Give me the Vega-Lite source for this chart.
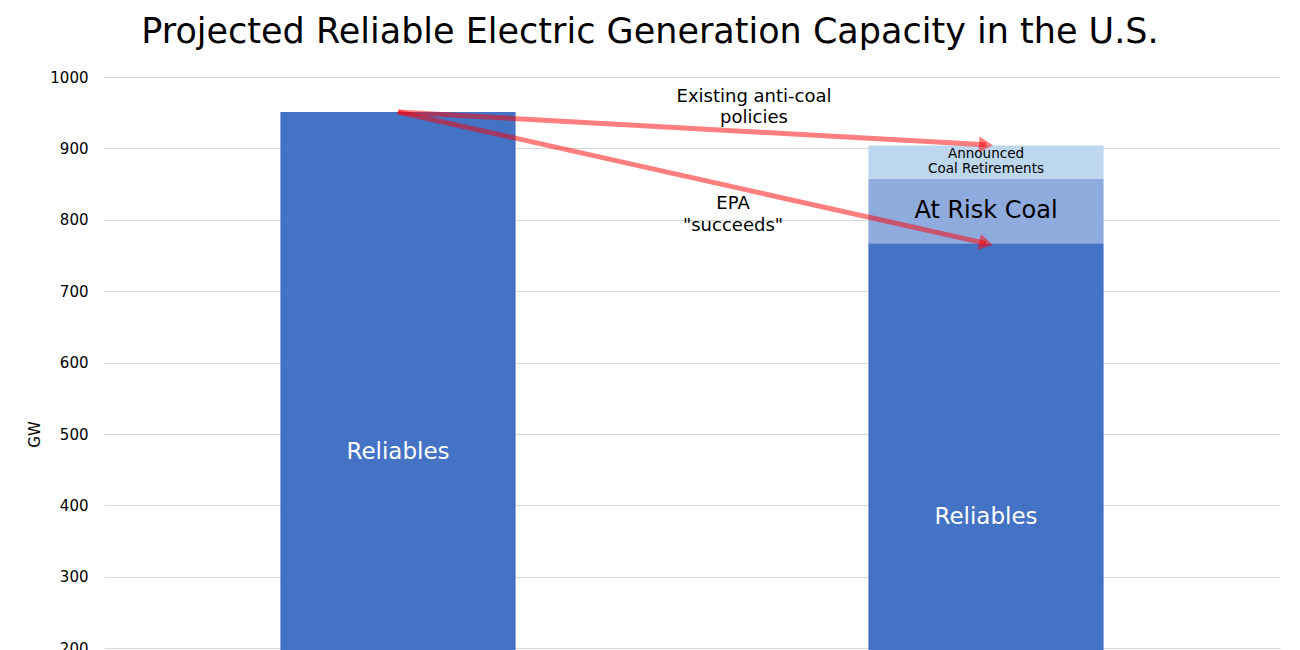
{
  "$schema": "https://vega.github.io/schema/vega-lite/v6.json",
  "autosize": "none",
  "width": 1176,
  "height": 714,
  "padding": {"left": 104, "top": 77, "right": 20, "bottom": 0},
  "background": "white",
  "config": {"view": {"stroke": null}, "font": "DejaVu Sans"},
  "title": {"text": "Projected Reliable Electric Generation Capacity in the U.S.", "anchor": "middle", "frame": "group", "dx": -42, "fontSize": 35, "font": "DejaVu Sans", "fontWeight": "normal", "color": "#000000", "offset": 20},
  "datasets": {
    "bars": [
      {"period": "Today", "segment": "Reliables", "gw": 951, "order": 1},
      {"period": "Projected", "segment": "Reliables", "gw": 767, "order": 1},
      {"period": "Projected", "segment": "At Risk Coal", "gw": 91, "order": 2},
      {"period": "Projected", "segment": "Announced Coal Retirements", "gw": 46, "order": 3}
    ],
    "arrows": [
      {"from": "Today", "to": "Projected", "y1": 951, "y2": 905, "angle": 3.2, "name": "Existing anti-coal policies"},
      {"from": "Today", "to": "Projected", "y1": 951, "y2": 767, "angle": 12.6, "name": "EPA succeeds"}
    ]
  },
  "encoding": {
    "x": {"field": "period", "type": "nominal", "axis": null, "scale": {"domain": ["Today", "Projected"], "paddingInner": 0.6, "paddingOuter": 0.3}}
  },
  "layer": [
    {
      "data": {"name": "bars"},
      "mark": {"type": "bar"},
      "encoding": {
        "y": {"field": "gw", "type": "quantitative", "stack": "zero", "scale": {"domain": [0, 1000]},
          "axis": {"title": "GW", "format": "d", "values": [0,100,200,300,400,500,600,700,800,900,1000], "domain": false, "ticks": false, "labelPadding": 16, "labelFontSize": 15, "labelColor": "#000000", "labelFont": "DejaVu Sans", "titleFont": "DejaVu Sans", "titleFontSize": 15, "titleFontWeight": "normal", "titleColor": "#000000", "titlePadding": 7, "gridColor": "#d9d9d9", "gridWidth": 1.2}},
        "color": {"field": "segment", "type": "nominal", "legend": null,
          "scale": {"domain": ["Reliables", "At Risk Coal", "Announced Coal Retirements"], "range": ["#4472c4", "#8faadc", "#bdd7ee"]}},
        "order": {"field": "order", "type": "quantitative"}
      }
    },
    {
      "data": {"values": [{"period": "Today", "y": 475, "t": "Reliables"}, {"period": "Projected", "y": 384, "t": "Reliables"}]},
      "mark": {"type": "text", "color": "white", "fontSize": 23, "font": "DejaVu Sans"},
      "encoding": {"y": {"field": "y", "type": "quantitative"}, "text": {"field": "t"}}
    },
    {
      "data": {"values": [{"period": "Projected", "y": 812, "t": "At Risk Coal"}]},
      "mark": {"type": "text", "color": "black", "fontSize": 24, "font": "DejaVu Sans"},
      "encoding": {"y": {"field": "y", "type": "quantitative"}, "text": {"field": "t"}}
    },
    {
      "data": {"values": [{"period": "Projected", "y": 892, "t": "Announced"}, {"period": "Projected", "y": 871, "t": "Coal Retirements"}]},
      "mark": {"type": "text", "color": "black", "fontSize": 13.5, "font": "DejaVu Sans"},
      "encoding": {"y": {"field": "y", "type": "quantitative"}, "text": {"field": "t"}}
    },
    {
      "data": {"values": [
        {"period": "Projected", "y": 972, "t": "Existing anti-coal"},
        {"period": "Projected", "y": 942, "t": "policies"}
      ]},
      "mark": {"type": "text", "color": "black", "fontSize": 18, "font": "DejaVu Sans", "dx": -232},
      "encoding": {"y": {"field": "y", "type": "quantitative"}, "text": {"field": "t"}}
    },
    {
      "data": {"values": [
        {"period": "Projected", "y": 822, "t": "EPA"},
        {"period": "Projected", "y": 791, "t": "\"succeeds\""}
      ]},
      "mark": {"type": "text", "color": "black", "fontSize": 18, "font": "DejaVu Sans", "dx": -253},
      "encoding": {"y": {"field": "y", "type": "quantitative"}, "text": {"field": "t"}}
    },
    {
      "data": {"name": "arrows"},
      "mark": {"type": "rule", "color": "#ff0000", "opacity": 0.5, "strokeWidth": 5},
      "encoding": {
        "x": {"field": "from", "type": "nominal"},
        "x2": {"field": "to"},
        "y": {"field": "y1", "type": "quantitative"},
        "y2": {"field": "y2"}
      }
    },
    {
      "data": {"name": "arrows"},
      "mark": {"type": "point", "shape": "triangle-right", "filled": true, "color": "#ff0000", "opacity": 0.5, "size": 260},
      "encoding": {
        "x": {"field": "to", "type": "nominal"},
        "y": {"field": "y2", "type": "quantitative"},
        "angle": {"field": "angle", "type": "quantitative", "scale": null}
      }
    }
  ]
}
